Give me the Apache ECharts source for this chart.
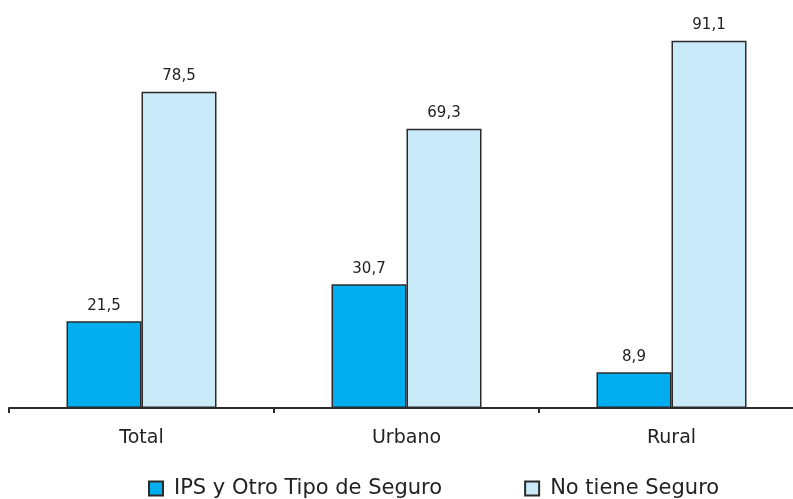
<!DOCTYPE html>
<html>
<head>
<meta charset="utf-8">
<script src="https://cdn.jsdelivr.net/npm/echarts@6/dist/echarts.min.js"></script>
<style>
  html, body { margin: 0; padding: 0; background: #fff; }
  #chart { width: 793px; height: 499px; }
</style>
</head>
<body>
<div id="chart"></div>
<script>
// datos
var categorias = ['Total', 'Urbano', 'Rural'];
var ipsOtro = [21.5, 30.7, 8.9];
var noTiene = [78.5, 69.3, 91.1];

var fuente = 'DejaVu Sans, Verdana, sans-serif';

var chart = echarts.init(document.getElementById('chart'));

var etiqueta = {
    show: true,
    position: 'top',
    distance: 8,
    color: '#222',
    fontSize: 15,
    fontFamily: fuente,
    formatter: function (p) { return p.value.toFixed(1).replace('.', ','); }
};

chart.setOption({
    animation: false,
    // el eje sigue más allá del borde derecho
    grid: { left: 9, width: 795, top: 5, bottom: 91, outerBoundsMode: 'none' },
    legend: {
        top: 473,
        left: 143,
        itemWidth: 14,
        itemHeight: 14,
        itemGap: 82,
        icon: 'rect',
        textStyle: { fontSize: 21, fontFamily: fuente, color: '#222', padding: [0, 0, 0, 6] },
        data: ['IPS y Otro Tipo de Seguro', 'No tiene Seguro']
    },
    xAxis: {
        type: 'category',
        data: categorias,
        axisLine: { lineStyle: { color: '#2b2b2b', width: 2 } },
        axisTick: { show: true, length: 5, lineStyle: { color: '#2b2b2b', width: 2 } },
        axisLabel: { fontSize: 19, fontFamily: fuente, color: '#222', margin: 21 }
    },
    yAxis: {
        type: 'value',
        min: 0,
        max: 100,
        show: false
    },
    series: [
        {
            name: 'IPS y Otro Tipo de Seguro',
            type: 'bar',
            data: ipsOtro,
            barWidth: 75,
            barGap: '0%',
            itemStyle: { color: '#00adef', borderColor: '#2b2b2b', borderWidth: 1.5 },
            label: etiqueta
        },
        {
            name: 'No tiene Seguro',
            type: 'bar',
            data: noTiene,
            barWidth: 75,
            barGap: '0%',
            itemStyle: { color: '#c8eaf9', borderColor: '#2b2b2b', borderWidth: 1.5 },
            label: etiqueta
        }
    ]
});
</script>
</body>
</html>
